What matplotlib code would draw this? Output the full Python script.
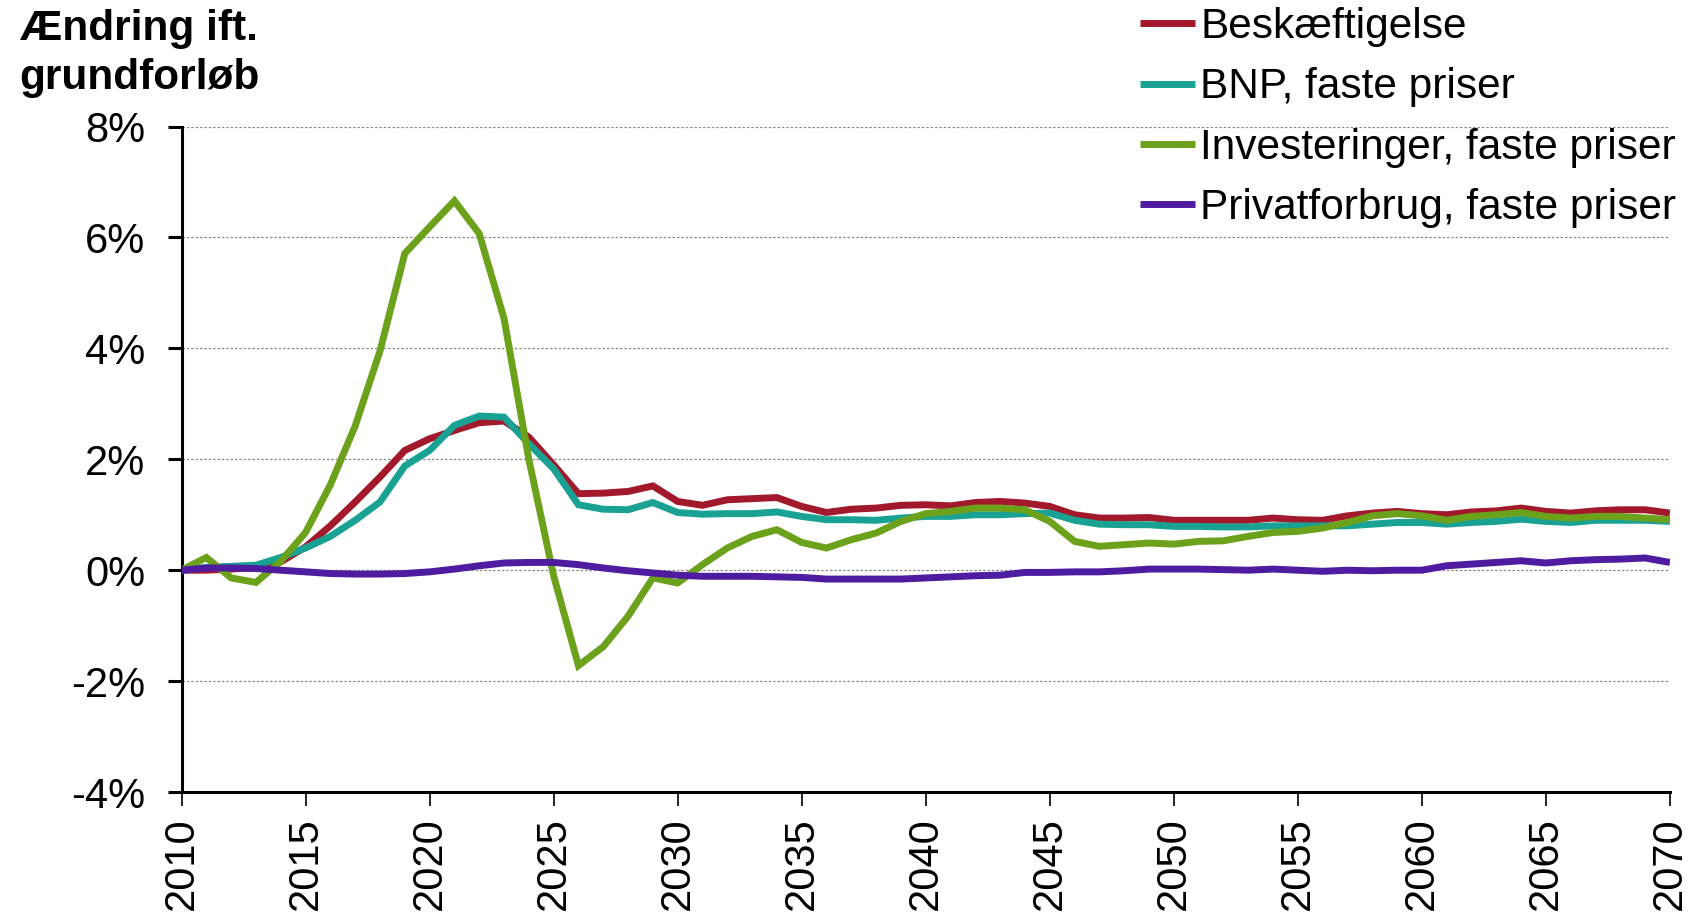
import matplotlib
matplotlib.use("Agg")
import matplotlib.pyplot as plt
import numpy as np

years = list(range(2010, 2071))

beskaeftigelse = [0.0, 0.0, 0.02, 0.05, 0.15, 0.42, 0.8, 1.23, 1.68, 2.16, 2.37, 2.52, 2.66, 2.69, 2.4, 1.9,
                  1.38, 1.39, 1.42, 1.52, 1.24, 1.17, 1.27, 1.29, 1.31, 1.15, 1.04, 1.1, 1.12, 1.17, 1.18,
                  1.16, 1.22, 1.24, 1.21, 1.15, 1.0, 0.94, 0.94, 0.95, 0.9, 0.9, 0.9, 0.9, 0.94, 0.91,
                  0.9, 0.98, 1.03, 1.06, 1.02, 1.0, 1.05, 1.07, 1.12, 1.06, 1.03, 1.07, 1.09, 1.09, 1.03]

bnp = [0.0, 0.05, 0.07, 0.09, 0.23, 0.4, 0.61, 0.9, 1.23, 1.88, 2.16, 2.61, 2.78, 2.76, 2.28, 1.83,
       1.18, 1.1, 1.09, 1.22, 1.04, 1.01, 1.02, 1.02, 1.05, 0.97, 0.91, 0.91, 0.9, 0.94, 0.97,
       0.97, 1.0, 1.0, 1.02, 1.03, 0.9, 0.83, 0.82, 0.82, 0.79, 0.79, 0.78, 0.78, 0.8, 0.8,
       0.8, 0.8, 0.83, 0.86, 0.86, 0.83, 0.86, 0.88, 0.92, 0.88, 0.86, 0.9, 0.9, 0.9, 0.88]

investeringer = [0.0, 0.23, -0.14, -0.22, 0.16, 0.68, 1.54, 2.6, 3.95, 5.71, 6.19, 6.66, 6.07, 4.54, 2.0, -0.1,
                 -1.72, -1.38, -0.83, -0.14, -0.23, 0.1, 0.4, 0.61, 0.73, 0.5, 0.4, 0.55, 0.67, 0.88, 1.02,
                 1.06, 1.12, 1.12, 1.09, 0.88, 0.52, 0.43, 0.46, 0.49, 0.47, 0.52, 0.53, 0.61, 0.68, 0.7,
                 0.76, 0.86, 0.98, 1.02, 0.98, 0.9, 0.97, 1.0, 1.04, 0.97, 0.94, 0.97, 0.97, 0.94, 0.91]

privatforbrug = [0.0, 0.04, 0.04, 0.03, 0.0, -0.03, -0.06, -0.07, -0.07, -0.06, -0.03, 0.02, 0.08, 0.13, 0.14, 0.14,
                 0.1, 0.04, -0.01, -0.05, -0.09, -0.11, -0.11, -0.11, -0.12, -0.13, -0.16, -0.16, -0.16, -0.16, -0.14,
                 -0.12, -0.1, -0.09, -0.04, -0.04, -0.03, -0.03, -0.01, 0.02, 0.02, 0.02, 0.01, 0.0, 0.02, 0.0,
                 -0.02, 0.0, -0.01, 0.0, 0.0, 0.08, 0.11, 0.14, 0.17, 0.13, 0.17, 0.19, 0.2, 0.22, 0.14]

series_labels = ["Beskæftigelse", "BNP, faste priser", "Investeringer, faste priser", "Privatforbrug, faste priser"]
colors = ["#A2192B", "#19A294", "#6CA11B", "#4F1BA0"]

y_ticks = [-4, -2, 0, 2, 4, 6, 8]
y_ticklabels = ["-4%", "-2%", "0%", "2%", "4%", "6%", "8%"]
x_ticks = list(range(2010, 2071, 5))
title_text = "Ændring ift.\ngrundforløb"

plt.rcParams['font.family'] = ['Liberation Sans', 'DejaVu Sans']

fig = plt.figure(figsize=(16.95, 9.15), dpi=100)
ax = fig.add_axes([0.1071, 0.1344, 0.8781, 0.7273])

for vals, lab, c in zip([beskaeftigelse, bnp, investeringer, privatforbrug], series_labels, colors):
    ax.plot(years, vals, color=c, lw=5.0, label=lab, solid_joinstyle='miter', solid_capstyle='butt', zorder=3)

ax.set_xlim(2010, 2070)
ax.set_ylim(-4, 8)
ax.set_yticks(y_ticks)
ax.set_yticklabels(y_ticklabels)
ax.set_xticks(x_ticks)
ax.set_xticklabels([str(x) for x in x_ticks], rotation=90)

for v in y_ticks[1:]:
    ax.axhline(v, color="#8a8a8a", lw=0.9, ls=(0, (2, 1.5)), zorder=1)

for s in ["top", "right"]:
    ax.spines[s].set_visible(False)
for s in ["left", "bottom"]:
    ax.spines[s].set_linewidth(2.2)
    ax.spines[s].set_color("black")

ax.tick_params(axis='y', direction='out', length=10, width=2.2, labelsize=30, pad=16)
ax.tick_params(axis='x', direction='out', length=10, width=1.2, labelsize=30, pad=8)

fig.text(19.5 / 1695, 1 - 9 / 915, title_text, fontsize=30.5, fontweight='bold', ha='left', va='top',
         linespacing=1.3)

leg = fig.legend(loc='upper left', bbox_to_anchor=(1140 / 1695, 1 - 7 / 915), fontsize=30.5, frameon=False,
                 handlelength=1.3, handletextpad=0.12, labelspacing=0.48, borderpad=0, borderaxespad=0)

fig.savefig("out.png", dpi=100)
